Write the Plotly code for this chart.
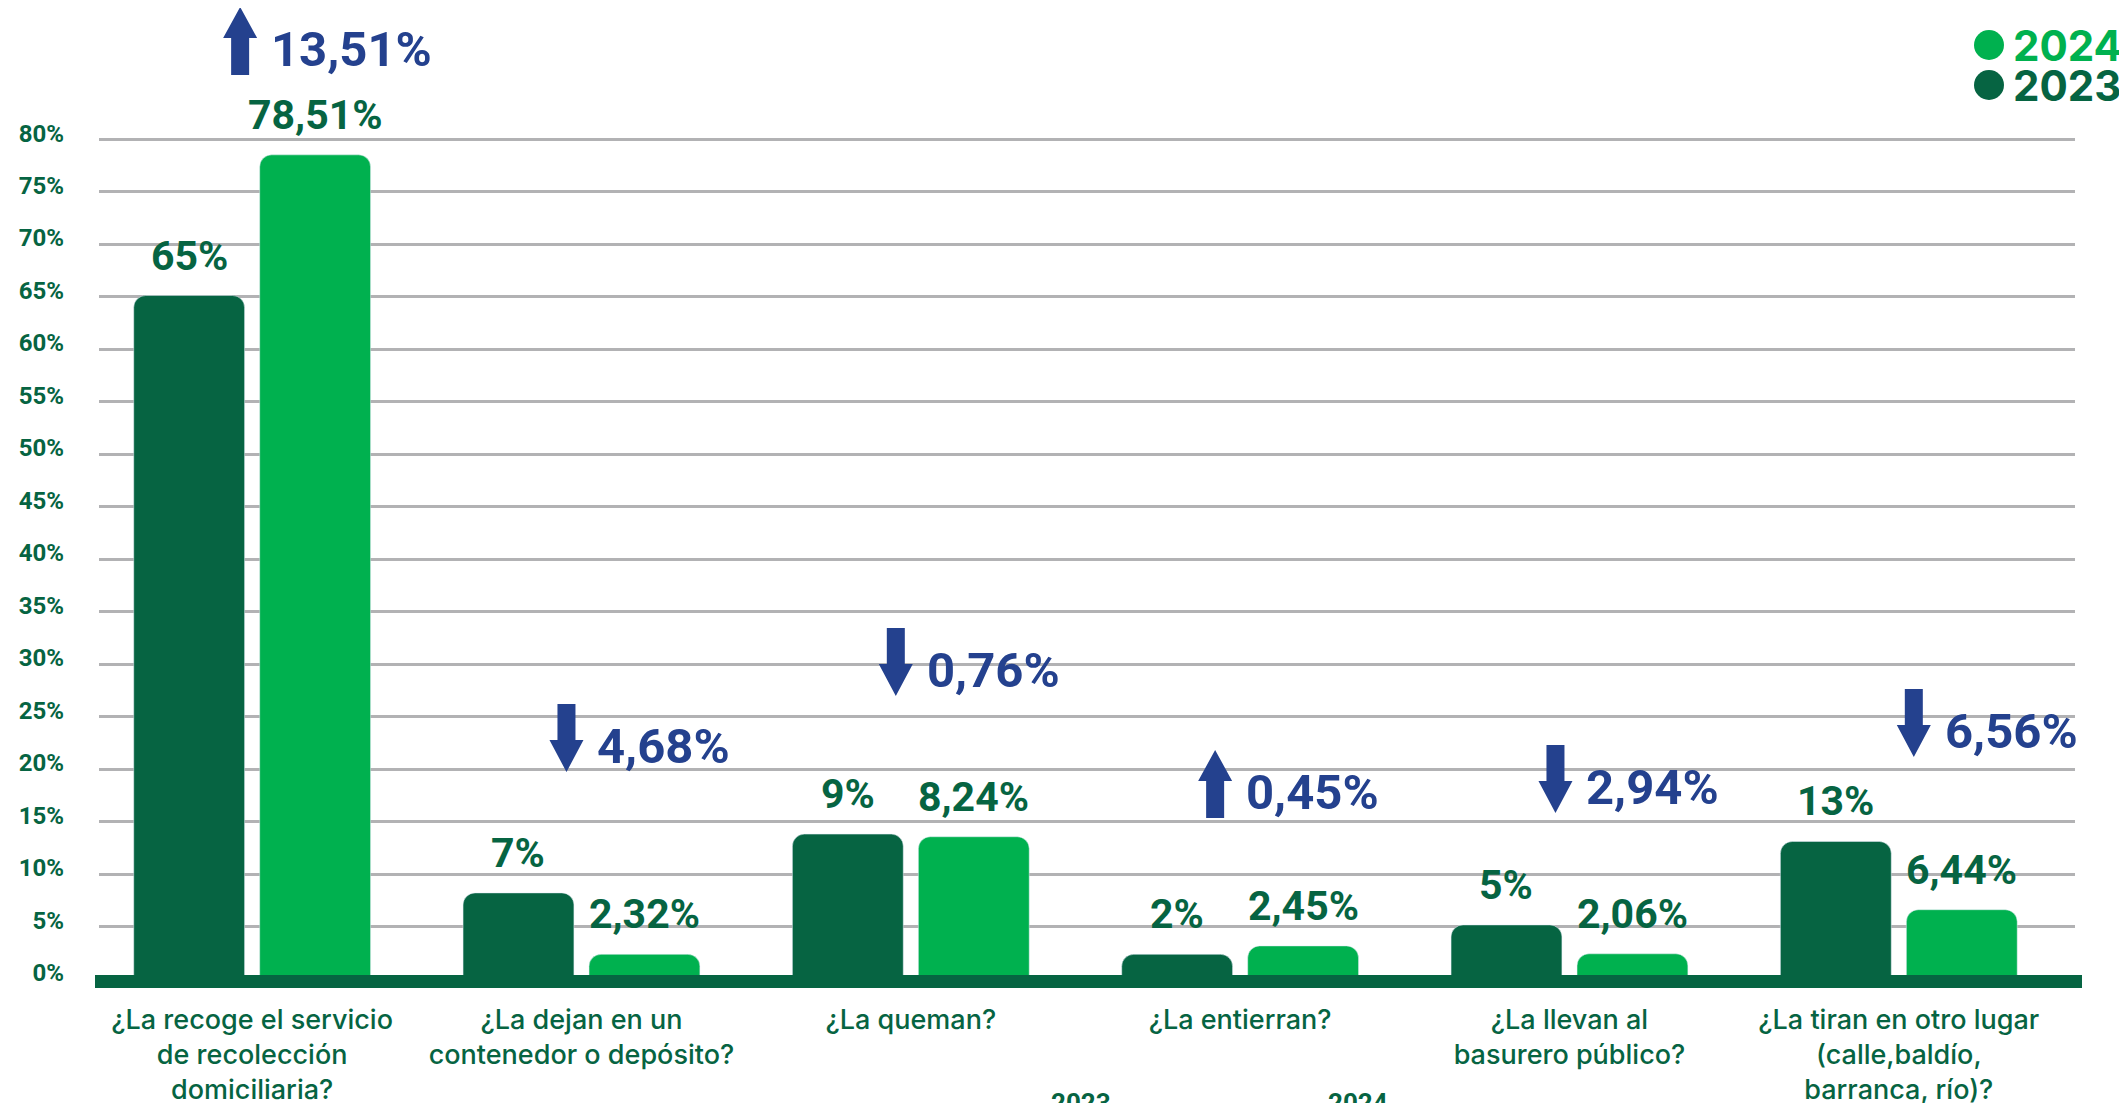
import plotly.graph_objects as go

categories = [
    "¿La recoge el servicio<br>de recolección<br>domiciliaria?",
    "¿La dejan en un<br>contenedor o depósito?",
    "¿La queman?",
    "¿La entierran?",
    "¿La llevan al<br>basurero público?",
    "¿La tiran en otro lugar<br>(calle,baldío,<br>barranca, río)?",
]
# bar heights as drawn in the picture
values_2023 = [65.1, 8.2, 13.8, 2.35, 5.15, 13.1]
values_2024 = [78.5, 2.35, 13.55, 3.15, 2.4, 6.6]
labels_2023 = ["65%", "7%", "9%", "2%", "5%", "13%"]
labels_2024 = ["78,51%", "2,32%", "8,24%", "2,45%", "2,06%", "6,44%"]
change_labels = ["13,51%", "4,68%", "0,76%", "0,45%", "2,94%", "6,56%"]
change_up = [True, False, False, True, False, False]
y_ticks = list(range(0, 85, 5))

DARK = "#066442"
LIGHT = "#00B14F"
BLUE = "#24418E"
GRID = "#B2B2B4"
FONT = "Roboto"
WIDE_FONT = "Inter"

PAGE_W, PAGE_H = 2127, 1103
OFF = 8  # body margin of the page, the figure starts 8px in
W, H = PAGE_W - OFF, PAGE_H - OFF
# plot area in page pixels
P_LEFT, P_RIGHT, P_TOP, P_BOTTOM = 99, 2075, 137, 979
L = P_LEFT - OFF
T = P_TOP - OFF
R = W - (P_RIGHT - OFF)
B = H - (P_BOTTOM - OFF)
plot_w = P_RIGHT - P_LEFT
plot_h = P_BOTTOM - P_TOP

def px_x(p):
    return (p - P_LEFT) / plot_w

def px_y(p):
    return (P_BOTTOM - p) / plot_h

# change arrows: pixel offset from the group centre, top of the arrow (page px)
arrow_xshift = [-12, -15, -15, -25, -14, 15]
arrow_top_px = [7, 704, 628, 750, 745, 689]

fig = go.Figure()
fig.add_trace(go.Bar(x=categories, y=values_2023, name="2023", marker_color=DARK, showlegend=False))
fig.add_trace(go.Bar(x=categories, y=values_2024, name="2024", marker_color=LIGHT, showlegend=False))

annotations = []
for i, cat in enumerate(categories):
    annotations.append(dict(x=cat, y=values_2023[i], xref="x", yref="y", text=labels_2023[i],
                            showarrow=False, xshift=-63, yshift=40, yanchor="middle",
                            font=dict(family=FONT, size=41, color=DARK, weight="bold")))
    annotations.append(dict(x=cat, y=values_2024[i], xref="x", yref="y", text=labels_2024[i],
                            showarrow=False, xshift=63, yshift=40, yanchor="middle",
                            font=dict(family=FONT, size=41, color=DARK, weight="bold")))
    annotations.append(dict(x=cat, y=px_y(arrow_top_px[i] + 42), xref="x", yref="paper",
                            text=change_labels[i], showarrow=False, xshift=arrow_xshift[i] + 29,
                            xanchor="left", yanchor="middle",
                            font=dict(family=FONT, size=49, color=BLUE, weight="bold")))

shapes = []
up_pts = [(0, 0), (17, -31), (9, -31), (9, -68), (-9, -68), (-9, -31), (-17, -31)]
down_pts = [(-9, 0), (9, 0), (9, -36), (17, -36), (0, -68), (-17, -36), (-9, -36)]
for i in range(len(categories)):
    pts = up_pts if change_up[i] else down_pts
    path = "M" + " L".join(f"{x + arrow_xshift[i]},{y}" for x, y in pts) + " Z"
    shapes.append(dict(type="path", xref="x", yref="paper", xsizemode="pixel", ysizemode="pixel",
                       xanchor=i, yanchor=px_y(arrow_top_px[i]), path=path,
                       fillcolor=BLUE, line=dict(width=0)))

# thick baseline
shapes.append(dict(type="line", xref="paper", x0=px_x(95), x1=px_x(2082),
                   yref="paper", y0=px_y(981.5), y1=px_y(981.5),
                   line=dict(color=DARK, width=13), layer="above"))

# legend
for year, color, ypx in [("2024", LIGHT, 45), ("2023", DARK, 85)]:
    shapes.append(dict(type="circle", xref="paper", yref="paper", xsizemode="pixel", ysizemode="pixel",
                       xanchor=px_x(1989), yanchor=px_y(ypx), x0=-15, x1=15, y0=-15, y1=15,
                       fillcolor=color, line=dict(width=0)))
    annotations.append(dict(x=px_x(2011), y=px_y(ypx), xref="paper", yref="paper", text=year,
                            showarrow=False, xanchor="left", yanchor="middle",
                            font=dict(family=WIDE_FONT, size=42, color=color, weight="bold")))

# cut-off year labels at the very bottom
for year, xpx in [("2023", 1081), ("2024", 1358)]:
    annotations.append(dict(x=px_x(xpx), y=px_y(1086), xref="paper", yref="paper", text=year,
                            showarrow=False, xanchor="center", yanchor="top",
                            font=dict(family=FONT, size=26, color=DARK, weight="bold")))

fig.update_layout(
    width=W, height=H,
    margin=dict(l=L, r=R, t=T, b=B),
    paper_bgcolor="white", plot_bgcolor="white",
    barmode="group", bargap=0.235, bargroupgap=0.12, barcornerradius=12,
    font=dict(family=FONT, color=DARK),
    xaxis=dict(type="category", range=[-0.465, 5.535], showgrid=False, zeroline=False,
               showline=False, ticks="", ticklabelstandoff=22, automargin=False,
               tickfont=dict(family=WIDE_FONT, size=27, color=DARK, weight=500)),
    yaxis=dict(range=[0, 80.2], tickvals=y_ticks, ticktext=[f"{v}%" for v in y_ticks],
               showgrid=True, gridcolor=GRID, gridwidth=3, zeroline=False, showline=False,
               ticks="", ticklabelstandoff=34, ticklabelshift=-6, automargin=False,
               tickfont=dict(family=FONT, size=24, color=DARK, weight="bold")),
    annotations=annotations,
    shapes=shapes,
    hovermode=False,
)

fig.write_html("out.html")
